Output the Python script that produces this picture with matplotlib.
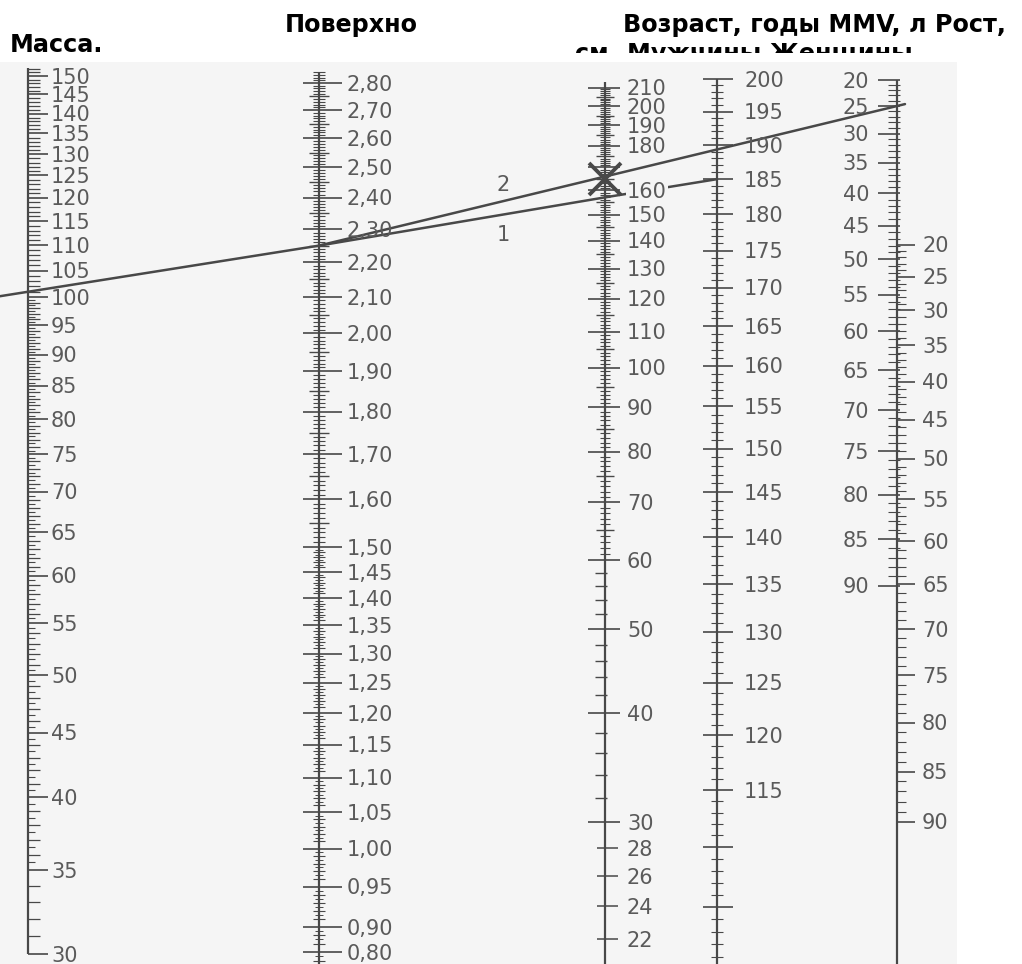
import numpy as np
import matplotlib
matplotlib.use("Agg")
import matplotlib.pyplot as plt
from matplotlib.patches import Rectangle
from matplotlib import transforms

W, H = 1022, 964

# ---- scale graduations (values printed on each scale) ----
mass_labels = [150, 145, 140, 135, 130, 125, 120, 115, 110, 105, 100, 95, 90,
               85, 80, 75, 70, 65, 60, 55, 50, 45, 40, 35, 30]
surface_values = [2.80, 2.70, 2.60, 2.50, 2.40, 2.30, 2.20, 2.10, 2.00, 1.90,
                  1.80, 1.70, 1.60, 1.50, 1.45, 1.40, 1.35, 1.30, 1.25, 1.20,
                  1.15, 1.10, 1.05, 1.00, 0.95, 0.90, 0.87]
surface_labels = ["2,80", "2,70", "2,60", "2,50", "2,40", "2,30", "2,20", "2,10",
                  "2,00", "1,90", "1,80", "1,70", "1,60", "1,50", "1,45", "1,40",
                  "1,35", "1,30", "1,25", "1,20", "1,15", "1,10", "1,05", "1,00",
                  "0,95", "0,90", "0,80"]
scale3_majors = [210, 200, 190, 180, 170, 160, 150, 140, 130, 120, 110, 100,
                 90, 80, 70, 60, 50, 40, 30]
scale3_labels = [210, 200, 190, 180, 160, 150, 140, 130, 120, 110, 100, 90, 80,
                 70, 60, 50, 40, 30, 28, 26, 24, 22]
scale3_small = [28, 26, 24, 22]
scale4_majors = [200, 195, 190, 185, 180, 175, 170, 165, 160, 155, 150, 145,
                 140, 135, 130, 125, 120, 115, 110, 105]
scale4_labels = [200, 195, 190, 185, 180, 175, 170, 165, 160, 155, 150, 145,
                 140, 135, 130, 125, 120, 115]
men_age_labels = [20, 25, 30, 35, 40, 45, 50, 55, 60, 65, 70, 75, 80, 85, 90]
women_age_labels = [20, 25, 30, 35, 40, 45, 50, 55, 60, 65, 70, 75, 80, 85, 90]

# ---- the two worked examples drawn across the nomogram ----
mass_example = 101
surface_example = 2.25
scale3_line1 = 157
scale4_line1 = 185
scale3_cross = 165
men_age_line2 = 25

# ---- layout ----
X_MASS, X_SURF, X_S3, X_S4, X_AGE = 28, 319, 605, 717, 897
INK = "#484848"
TXT = "#5a5a5a"
BG = "#f5f5f5"
LAB = dict(fontsize=15, color=TXT, family="DejaVu Sans")

fig = plt.figure(figsize=(W / 100, H / 100), dpi=100)
fig.patch.set_facecolor("white")
base = fig.add_axes([0, 0, 1, 1])
base.set_xlim(0, W)
base.set_ylim(H, 0)
base.axis("off")

# headings
hdr = dict(fontsize=17.2, fontweight="bold", color="black", family="DejaVu Sans",
           va="baseline", zorder=1)
base.text(285, 32, "Поверхно", **hdr)
base.text(623, 32, "Возраст, годы MMV, л Рост,", **hdr)
base.text(575, 61, "см", **hdr)
base.text(627, 61, "Мужчины Женщины", **hdr)
base.text(10, 52, "Масса.", **hdr)

# sheet of the nomogram
base.add_patch(Rectangle((0, 53), W, H - 53, fc="white", ec="none", zorder=2))
base.add_patch(Rectangle((0, 62), 957, H - 62, fc=BG, ec="none", zorder=3))


def overlay():
    ax = fig.add_axes([0, 0, 1, 1])
    ax.set_xlim(0, W)
    ax.axis("off")
    ax.patch.set_visible(False)
    return ax


def log_scale(v1, y1, v2, y2):
    ax = overlay()
    ax.set_yscale("log")
    per_dec = (y2 - y1) / np.log10(v1 / v2)
    top = v1 * 10 ** (y1 / per_dec)
    bottom = v1 / 10 ** ((H - y1) / per_dec)
    ax.set_ylim(bottom, top)
    return ax


def quad_scale(a, b, c, centre):
    def fwd(v):
        u = np.asarray(v, float) - centre
        return a + b * u + c * u * u

    def inv(y):
        disc = np.clip(b * b + 4 * c * (np.asarray(y, float) - a), 0, None)
        return centre + (np.sqrt(disc) - b) / (2 * c)

    ax = overlay()
    ax.set_yscale("function", functions=(fwd, inv))
    ax.set_ylim(float(inv(H)), float(inv(0)))
    return ax


def tick(ax, x, vals, left, right, lw=1.0):
    ax.hlines(vals, x - left, x + right, colors=INK, lw=lw)


def put_labels(ax, x, vals, texts, ha="left", box=False):
    tr = transforms.offset_copy(ax.transData, fig=fig, x=0, y=-7.6, units="dots")
    for v, t in zip(vals, texts):
        kw = {}
        if box:
            kw["bbox"] = dict(fc=BG, ec="none", pad=0.8)
        ax.text(x, v, t, transform=tr, ha=ha, va="baseline", **LAB, **kw)


# ---- mass scale ----
ax_m = log_scale(150, 76, 30, 954)
ax_m.vlines(X_MASS, 30, 152.3, colors=INK, lw=1.6)
tick(ax_m, X_MASS, mass_labels, 0, 20, lw=1.2)
ints = [k for k in range(31, 153) if k % 5]
tick(ax_m, X_MASS, ints, 0, 12, lw=0.9)
halves = [k + 0.5 for k in range(35, 100)]
tick(ax_m, X_MASS, halves, 0, 7, lw=0.8)
put_labels(ax_m, X_MASS + 23, mass_labels, [str(v) for v in mass_labels])

# ---- body surface scale ----
ax_s = log_scale(2.8, 83, 0.9, 927)
ax_s.vlines(X_SURF, 0.8, 2.84, colors=INK, lw=1.6)
tick(ax_s, X_SURF, surface_values, 16, 23, lw=1.2)
maj_k = {int(round(v * 100)) for v in surface_values}
med, mnr, micro = [], [], []
for k in range(84, 285):
    if k in maj_k:
        continue
    (med if k % 5 == 0 else mnr).append(k / 100)
    if k < 150:
        micro.append((k + 0.5) / 100)
tick(ax_s, X_SURF, med, 10, 10, lw=1.0)
tick(ax_s, X_SURF, mnr, 6, 6, lw=0.8)
tick(ax_s, X_SURF, micro, 4, 4, lw=0.7)
put_labels(ax_s, X_SURF + 28, surface_values, surface_labels)

# ---- third scale ----
ax_3 = log_scale(200, 106, 30, 822)
ax_3.vlines(X_S3, 20, 213, colors=INK, lw=1.6)
tick(ax_3, X_S3, scale3_majors, 17, 15, lw=1.2)
tick(ax_3, X_S3, scale3_small, 8, 13, lw=1.1)
tick(ax_3, X_S3, [k for k in range(60, 210) if k % 5 == 0 and k % 10], 9, 9)
tick(ax_3, X_S3, [k for k in range(61, 210) if k % 5], 5, 5, lw=0.8)
tick(ax_3, X_S3, [k for k in range(32, 60, 2) if k % 10], 10, 2)
put_labels(ax_3, X_S3 + 22, scale3_labels, [str(v) for v in scale3_labels], box=True)

# ---- fourth scale ----
ax_4 = log_scale(200, 79, 115, 790)
ax_4.vlines(X_S4, 95, 200, colors=INK, lw=1.6)
tick(ax_4, X_S4, scale4_majors, 14, 16, lw=1.2)
tick(ax_4, X_S4, [k for k in range(98, 200) if k % 5], 6, 6, lw=0.8)
put_labels(ax_4, X_S4 + 27, scale4_labels, [str(v) for v in scale4_labels])

# ---- age scales (men on the left, women on the right of one line) ----
ax_am = quad_scale(294.6, 7.221, 0.03116, 55)
ax_am.vlines(X_AGE, 20, 126, colors=INK, lw=1.6)
tick(ax_am, X_AGE, men_age_labels, 19, 3, lw=1.2)
tick(ax_am, X_AGE, [k for k in range(21, 90) if k % 5], 9, 3, lw=0.8)
put_labels(ax_am, X_AGE - 28, men_age_labels, [str(v) for v in men_age_labels], ha="right")

ax_aw = quad_scale(499.2, 8.244, 0.0278, 55)
tick(ax_aw, X_AGE, women_age_labels, 1, 18, lw=1.2)
tick(ax_aw, X_AGE, [k for k in range(21, 90) if k % 5], 1, 9, lw=0.8)
put_labels(ax_aw, X_AGE + 25, women_age_labels, [str(v) for v in women_age_labels])


# ---- example lines ----
def px(ax, x, v):
    return base.transData.inverted().transform(ax.transData.transform((x, v)))


p_mass = px(ax_m, X_MASS, mass_example)
p_surf = px(ax_s, X_SURF, surface_example)
p_31 = px(ax_3, X_S3, scale3_line1)
p_41 = px(ax_4, X_S4, scale4_line1)
k1 = (p_surf[1] - p_mass[1]) / (p_surf[0] - p_mass[0])
p_start = (0.0, p_mass[1] - k1 * p_mass[0])
line1 = np.array([p_start, p_mass, p_surf, p_31, p_41])
base.plot(line1[:, 0], line1[:, 1], color=INK, lw=1.8, zorder=5,
          solid_joinstyle="round", solid_capstyle="round")

p_age = px(ax_am, X_AGE, men_age_line2)
k2 = (p_age[1] - p_surf[1]) / (p_age[0] - p_surf[0])
p_end = (p_age[0] + 8, p_age[1] + 8 * k2)
base.plot([p_surf[0], p_end[0]], [p_surf[1], p_end[1]], color=INK, lw=1.8,
          zorder=5, solid_capstyle="round")

ax_3.plot(X_S3, scale3_cross, marker="x", ms=23, mew=2.8, color=INK, zorder=6)

xl = 503
y2 = p_surf[1] + (xl - p_surf[0]) * k2
k13 = (p_31[1] - p_surf[1]) / (p_31[0] - p_surf[0])
y1 = p_surf[1] + (xl - p_surf[0]) * k13
base.text(xl, y2 - 16, "2", ha="center", va="center", zorder=6, **LAB)
base.text(xl, y1 + 20, "1", ha="center", va="center", zorder=6, **LAB)

# right margin outside the printed sheet
top = overlay()
top.set_ylim(H, 0)
top.add_patch(Rectangle((957, 53), W - 957, H - 53, fc="white", ec="none"))

fig.savefig("out.png", dpi=100, facecolor="white")
